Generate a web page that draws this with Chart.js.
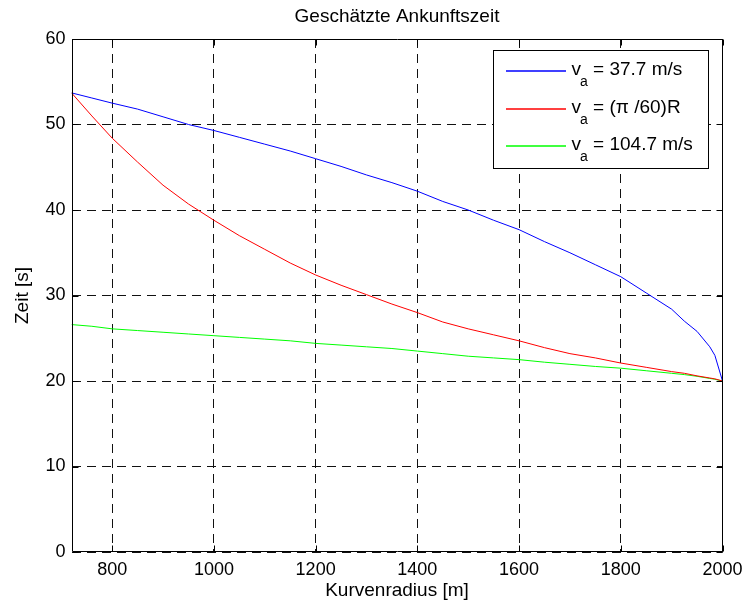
<!DOCTYPE html>
<html>
<head>
<meta charset="utf-8">
<script src="https://cdn.jsdelivr.net/npm/chart.js@4/dist/chart.umd.min.js"></script>
<style>
  html, body { margin: 0; padding: 0; background: #fff; }
  canvas { display: block; }
</style>
</head>
<body>
<canvas id="c" width="743" height="604"></canvas>
<script>
// ---- data ----
const radius = [720, 760, 800, 850, 900, 950, 1000, 1050, 1100, 1150, 1200, 1250, 1300, 1350, 1400,
  1450, 1500, 1550, 1600, 1650, 1700, 1750, 1800, 1850, 1900, 1925, 1950, 1975, 1985, 2000];
const timeBlue = [53.7, 53.1, 52.5, 51.8, 50.9, 50.0, 49.3, 48.5, 47.7, 46.9, 46.0, 45.1, 44.1, 43.2, 42.2,
  41.0, 40.0, 38.8, 37.7, 36.3, 35.0, 33.6, 32.2, 30.3, 28.4, 27.0, 25.8, 24.0, 23.0, 20.0];
const timeRed = [53.7, 51.0, 48.4, 45.6, 42.9, 40.7, 38.8, 37.0, 35.4, 33.8, 32.4, 31.2, 30.1, 29.0, 28.0,
  26.9, 26.1, 25.4, 24.7, 23.9, 23.2, 22.7, 22.1, 21.6, 21.1, 20.9, 20.6, 20.35, 20.25, 20.0];
const timeGreen = [26.6, 26.4, 26.1, 25.9, 25.7, 25.5, 25.3, 25.1, 24.9, 24.7, 24.4, 24.2, 24.0, 23.8, 23.5,
  23.2, 22.9, 22.7, 22.5, 22.2, 21.95, 21.7, 21.5, 21.2, 20.9, 20.75, 20.55, 20.3, 20.2, 20.0];
const seriesLabels = ['v_a = 37.7 m/s', 'v_a = (\u03c0 /60)R', 'v_a = 104.7 m/s'];
const seriesColors = ['#0000ff', '#ff0000', '#00ff00'];
const xTicks = [800, 1000, 1200, 1400, 1600, 1800, 2000];
const yTicks = [0, 10, 20, 30, 40, 50, 60];
const chartTitle = 'Geschätzte Ankunftszeit';
const xTitle = 'Kurvenradius [m]';
const yTitle = 'Zeit [s]';

const FONT = '"Liberation Sans", Arial, Helvetica, sans-serif';

const toPts = arr => radius.map((r, i) => ({ x: r, y: arr[i] }));

// box + inward ticks + legend
const boxPlugin = {
  id: 'boxPlugin',
  afterDatasetsDraw(chart) {
    const { ctx, chartArea: a, scales } = chart;
    ctx.save();
    ctx.strokeStyle = '#000';
    ctx.lineWidth = 1;
    ctx.setLineDash([]);
    const L = Math.round(a.left) + 0.5, R = Math.round(a.right) - 0.5;
    const T = Math.round(a.top) + 0.5, B = Math.round(a.bottom) - 0.5;
    ctx.beginPath();
    ctx.rect(L, T, R - L, B - T);
    ctx.stroke();
    const tl = 6;
    ctx.beginPath();
    scales.x.ticks.forEach(t => {
      const px = Math.round(scales.x.getPixelForValue(t.value)) + 0.5;
      ctx.moveTo(px, B); ctx.lineTo(px, B - tl);
      ctx.moveTo(px, T); ctx.lineTo(px, T + tl);
    });
    scales.y.ticks.forEach(t => {
      const py = Math.round(scales.y.getPixelForValue(t.value)) + 0.5;
      ctx.moveTo(L, py); ctx.lineTo(L + tl, py);
      ctx.moveTo(R, py); ctx.lineTo(R - tl, py);
    });
    ctx.stroke();

    // legend
    const bw = 215, bh = 118;
    const bx = Math.round(a.right - 15 - bw) + 0.5;
    const by = Math.round(a.top + 11) + 0.5;
    ctx.fillStyle = '#fff';
    ctx.fillRect(bx, by, bw, bh);
    ctx.strokeStyle = '#000';
    ctx.strokeRect(bx, by, bw, bh);
    seriesLabels.forEach((label, i) => {
      const ly = Math.round(by + 20.5 + i * 37.5);
      ctx.save();
      ctx.strokeStyle = seriesColors[i];
      ctx.lineWidth = 1.3;
      ctx.beginPath();
      ctx.moveTo(bx + 12.5, ly);
      ctx.lineTo(bx + 72.5, ly);
      ctx.stroke();
      ctx.restore();
      const m = /^(\w)_(\w)(.*)$/.exec(label);
      ctx.fillStyle = '#000';
      ctx.textAlign = 'left';
      ctx.textBaseline = 'alphabetic';
      let tx = bx + 78;
      ctx.font = '19px ' + FONT;
      ctx.fillText(m[1], tx, ly + 3.5);
      tx += ctx.measureText(m[1]).width - 1;
      ctx.font = '14px ' + FONT;
      ctx.fillText(m[2], tx, ly + 14.5);
      tx += ctx.measureText(m[2]).width;
      ctx.font = '19px ' + FONT;
      ctx.fillText(m[3], tx, ly + 3.5);
    });
    ctx.restore();
  }
};

new Chart(document.getElementById('c'), {
  type: 'line',
  data: {
    datasets: [timeBlue, timeRed, timeGreen].map((arr, i) => ({
      label: seriesLabels[i],
      data: toPts(arr),
      borderColor: seriesColors[i],
      backgroundColor: seriesColors[i],
      borderWidth: 1,
      pointRadius: 0,
      tension: 0,
      fill: false
    }))
  },
  options: {
    responsive: false,
    animation: false,
    devicePixelRatio: 1,
    layout: { padding: { left: 0, right: 20.5, top: 0, bottom: 0 } },
    plugins: {
      legend: { display: false },
      tooltip: { enabled: false },
      title: {
        display: true,
        text: chartTitle,
        fullSize: false,
        color: '#000',
        font: { family: FONT, size: 19, weight: 'normal' },
        padding: { top: 5, bottom: 11.2 }
      }
    },
    scales: {
      x: {
        type: 'linear',
        min: 720,
        max: 2000,
        afterBuildTicks: s => { s.ticks = xTicks.map(v => ({ value: v })); },
        afterFit: s => { s.height = 52; s.paddingRight = 0; s.paddingLeft = 0; },
        ticks: { color: '#000', font: { family: FONT, size: 18 }, padding: 7, maxRotation: 0, autoSkip: false,
                 callback: v => String(v) },
        grid: { color: '#111', lineWidth: 1, drawTicks: false },
        border: { display: false, dash: [9, 6] },
        title: { display: true, text: xTitle, color: '#000', font: { family: FONT, size: 19 }, padding: { top: 0, bottom: 1.6 } }
      },
      y: {
        type: 'linear',
        min: 0,
        max: 60,
        afterBuildTicks: s => { s.ticks = yTicks.map(v => ({ value: v })); },
        afterFit: s => { s.width = 71.5; },
        ticks: { color: '#000', font: { family: FONT, size: 18 }, padding: 6, callback: v => String(v) },
        grid: { color: '#111', lineWidth: 1, drawTicks: false },
        border: { display: false, dash: [9, 6] },
        title: { display: true, text: yTitle, color: '#000', font: { family: FONT, size: 19 }, padding: { top: 11.6, bottom: 0 } }
      }
    }
  },
  plugins: [boxPlugin]
});
</script>
</body>
</html>
